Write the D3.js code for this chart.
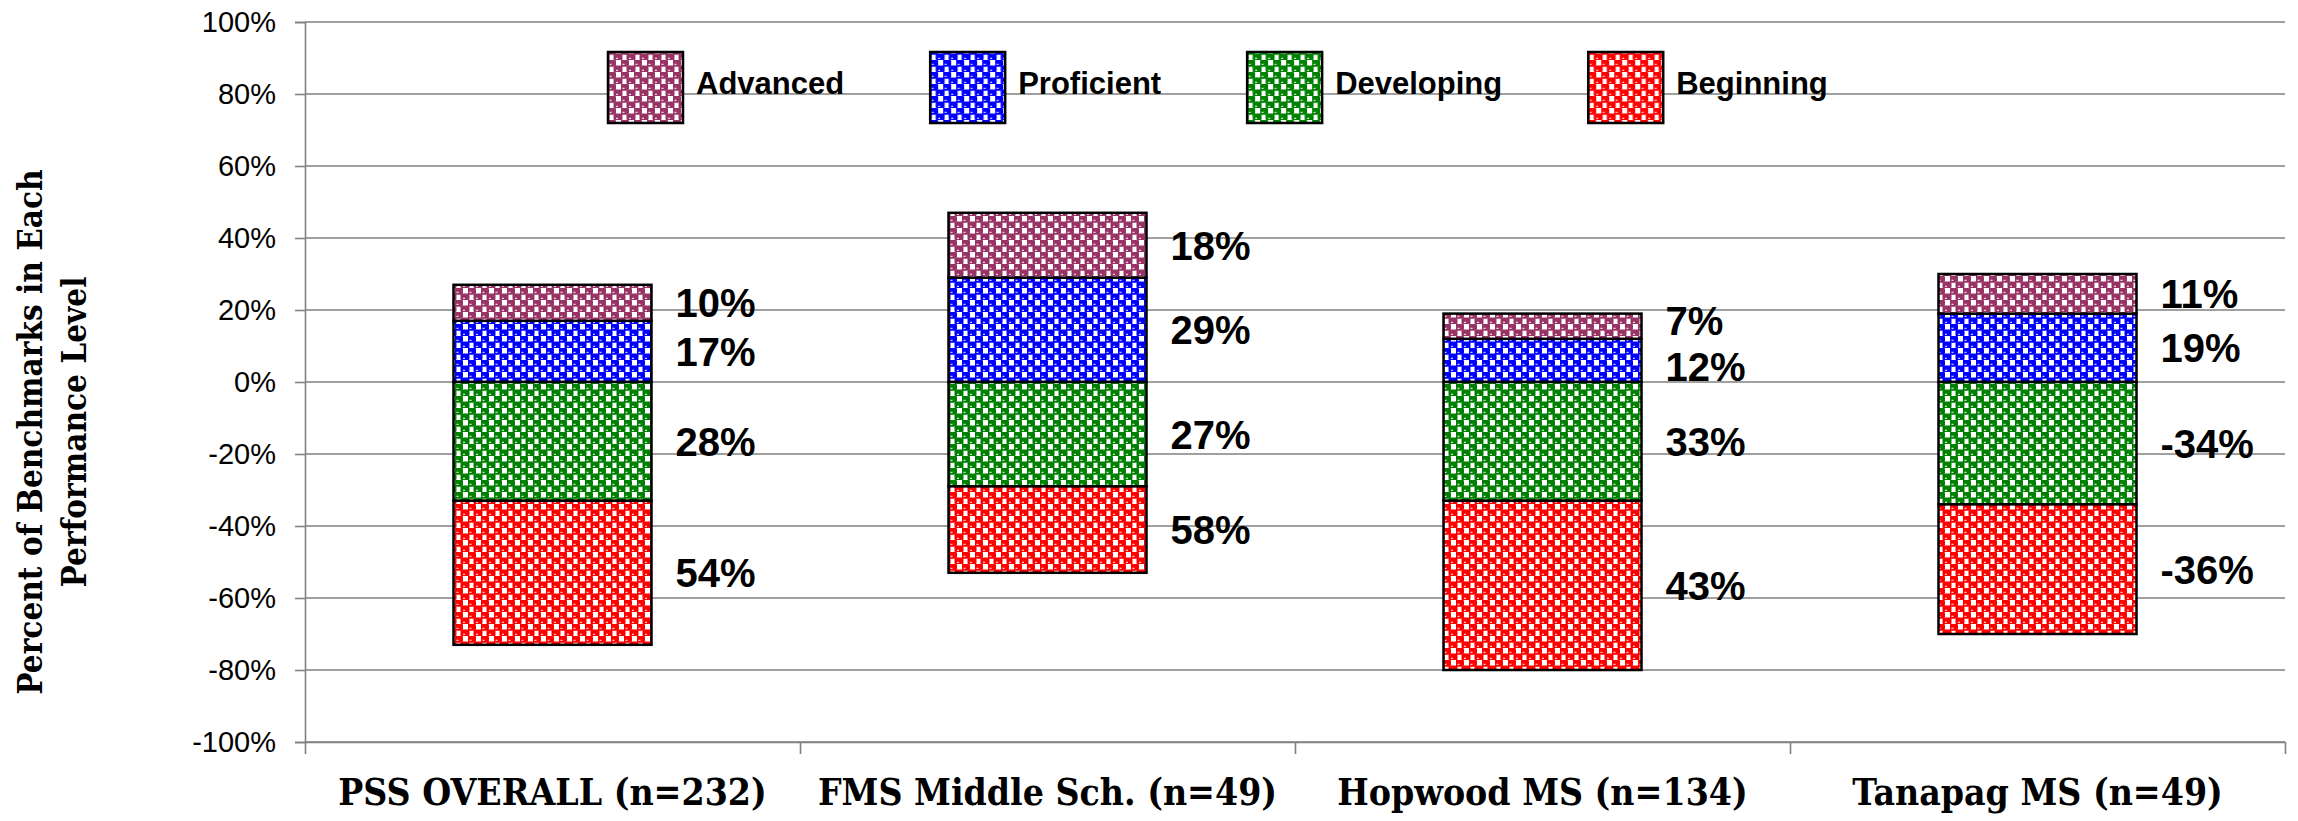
<!DOCTYPE html>
<html>
<head>
<meta charset="utf-8">
<script src="https://cdn.jsdelivr.net/npm/d3@7"></script>
<style>
    body { margin: 0; background: #fff; }
    svg { display: block; }
</style>
</head>
<body>
<svg id="chart"></svg>
<script>
// chart data
const schools = ["PSS OVERALL (n=232)", "FMS Middle Sch. (n=49)", "Hopwood MS (n=134)", "Tanapag MS (n=49)"];
const levels = ["Advanced", "Proficient", "Developing", "Beginning"];

const advanced   = [10, 18, 7, 11];
const proficient = [17, 29, 12, 19];
const developing = [-33, -29, -33, -34];
const beginning  = [-40, -24, -47, -36];

// the data labels as typed on the original chart (they do not all match the bars)
const advancedLabels   = ["10%", "18%", "7%", "11%"];
const proficientLabels = ["17%", "29%", "12%", "19%"];
const developingLabels = ["28%", "27%", "33%", "-34%"];
const beginningLabels  = ["54%", "58%", "43%", "-36%"];

const yTicks = [-100, -80, -60, -40, -20, 0, 20, 40, 60, 80, 100];

const yTitle = ["Percent of Benchmarks in Each", "Performance Level"];

const width = 2298, height = 821;
const plot = {left: 305, right: 2285, top: 22, bottom: 742};

const levelColor = {
    "Advanced"   : "#993366",
    "Proficient" : "#0000FF",
    "Developing" : "#008000",
    "Beginning"  : "#FF0000"
};
const gridColor = "#808080";
const sansFont = "'Liberation Sans', Arial, sans-serif";
const serifFont = "'DejaVu Serif Condensed', 'DejaVu Serif', serif";

const rows = schools.map((s, i) => ({
    school: s,
    Advanced: advanced[i], Proficient: proficient[i],
    Developing: developing[i], Beginning: beginning[i]
}));
const labelText = {
    "Advanced": advancedLabels, "Proficient": proficientLabels,
    "Developing": developingLabels, "Beginning": beginningLabels
};

const svg = d3.select("#chart")
    .attr("width", width).attr("height", height)
    .style("background", "#fff");

// pattern fills - white ground with coloured blobs in a checker
const defs = svg.append("defs");
const pat = defs.selectAll("pattern")
    .data(levels)
    .join("pattern")
    .attr("id", d => "pat-" + d)
    .attr("patternUnits", "userSpaceOnUse")
    .attr("width", 13).attr("height", 12);
pat.append("rect").attr("width", 13).attr("height", 12).attr("fill", "#fff");
[[0, 0], [6.5, 6], [-6.5, 6]].forEach(([bx, by]) => {
    pat.append("rect")
        .attr("x", bx - 1).attr("y", by - 0.6)
        .attr("width", 9).attr("height", 7.4).attr("rx", 2.2)
        .attr("fill", d => levelColor[d]);
    pat.append("rect")
        .attr("x", bx + 1.5).attr("y", by + 3.8)
        .attr("width", 2).attr("height", 1)
        .attr("fill", "#fff");
});

const x = d3.scaleBand()
    .domain(schools)
    .range([plot.left, plot.right])
    .paddingInner(0.6)
    .paddingOuter(0.3);

const y = d3.scaleLinear()
    .domain([-100, 100])
    .range([plot.bottom, plot.top]);

// gridlines
svg.append("g")
    .selectAll("line")
    .data(yTicks)
    .join("line")
    .attr("x1", plot.left).attr("x2", plot.right)
    .attr("y1", d => y(d)).attr("y2", d => y(d))
    .attr("stroke", gridColor)
    .attr("stroke-width", 1.6);

// y axis
const yAxis = svg.append("g")
    .attr("transform", `translate(${plot.left},0)`)
    .call(d3.axisLeft(y).tickValues(yTicks).tickFormat(d => d + "%").tickSize(10).tickPadding(19));
yAxis.selectAll(".domain, .tick line").attr("stroke", gridColor).attr("stroke-width", 1.6);
yAxis.selectAll("text")
    .attr("font-family", sansFont)
    .attr("font-size", 29)
    .attr("fill", "#000");

// x axis - ticks between categories
const xEdges = d3.scaleLinear().domain([0, schools.length]).range([plot.left, plot.right]);
const xAxis = svg.append("g")
    .attr("transform", `translate(0,${plot.bottom})`)
    .call(d3.axisBottom(xEdges).ticks(schools.length).tickSize(12).tickSizeOuter(0).tickFormat(""));
xAxis.selectAll(".domain, .tick line").attr("stroke", gridColor).attr("stroke-width", 1.6);

const xLabels = svg.append("g")
    .attr("transform", `translate(0,${plot.bottom})`)
    .call(d3.axisBottom(x).tickSize(0).tickPadding(37));
xLabels.select(".domain").remove();
xLabels.selectAll("text")
    .attr("font-family", serifFont)
    .attr("font-weight", "bold")
    .attr("font-size", 37)
    .attr("fill", "#000");

// stacked bars
const series = d3.stack()
    .keys(["Proficient", "Advanced", "Developing", "Beginning"])
    .offset(d3.stackOffsetDiverging)(rows);

const layer = svg.append("g")
    .selectAll("g")
    .data(series)
    .join("g")
    .attr("fill", s => `url(#pat-${s.key})`);

layer.selectAll("rect")
    .data(s => s)
    .join("rect")
    .attr("x", d => x(d.data.school))
    .attr("y", d => y(Math.max(d[0], d[1])))
    .attr("width", x.bandwidth())
    .attr("height", d => Math.abs(y(d[0]) - y(d[1])))
    .attr("stroke", "#000")
    .attr("stroke-width", 2.5);

// data labels, sat at the middle of each segment and pushed apart where they would collide
const labels = [];
series.forEach(s => s.forEach((d, i) => labels.push({
    key: s.key, i,
    x: x(d.data.school) + x.bandwidth() + 24,
    y: y((d[0] + d[1]) / 2)
})));
const minGap = 46;
schools.forEach((s, i) => {
    const col = labels.filter(l => l.i === i).sort((a, b) => a.y - b.y);
    for (let k = 1; k < col.length; k++) {
        const gap = col[k].y - col[k - 1].y;
        if (gap < minGap) {
            col[k - 1].y -= (minGap - gap) / 2;
            col[k].y += (minGap - gap) / 2;
        }
    }
});

svg.append("g")
    .selectAll("text")
    .data(labels)
    .join("text")
    .attr("x", l => l.x)
    .attr("y", l => l.y)
    .attr("dy", "0.36em")
    .attr("fill", "#000")
    .attr("font-family", sansFont)
    .attr("font-weight", "bold")
    .attr("font-size", 40)
    .text(l => labelText[l.key][l.i]);

// legend
const legend = svg.append("g").attr("transform", "translate(608,0)");
let cursor = 0;
levels.forEach(level => {
    const item = legend.append("g").attr("transform", `translate(${cursor},0)`);
    item.append("rect")
        .attr("x", 0).attr("y", 52)
        .attr("width", 75).attr("height", 71)
        .attr("fill", `url(#pat-${level})`)
        .attr("stroke", "#000")
        .attr("stroke-width", 2.5);
    const t = item.append("text")
        .attr("x", 88).attr("y", 94)
        .attr("font-family", sansFont)
        .attr("font-weight", "bold")
        .attr("font-size", 31)
        .attr("fill", "#000")
        .text(level);
    cursor += 88 + t.node().getComputedTextLength() + 86;
});

// y axis title
svg.append("g")
    .attr("transform", "translate(0,432) rotate(-90)")
    .selectAll("text")
    .data(yTitle)
    .join("text")
    .attr("x", 0)
    .attr("y", (d, i) => 42 + i * 44)
    .attr("text-anchor", "middle")
    .attr("font-family", serifFont)
    .attr("font-weight", "bold")
    .attr("font-size", 33)
    .attr("fill", "#000")
    .text(d => d);
</script>
</body>
</html>
